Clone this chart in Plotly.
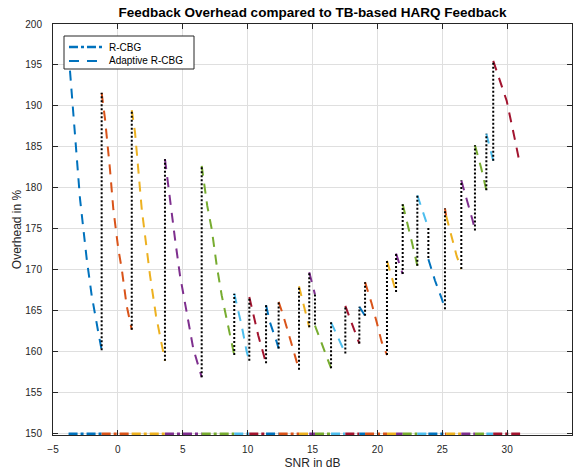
import plotly.graph_objects as go

# ---------------- data ----------------
# Adaptive R-CBG: flat list of points, segment id tells which curve they belong to
snr_db = [
    -3.80, -2.92, -2.40, -2.02, -1.51, -1.25,                 # 0
    -1.25, -0.99, -0.61, -0.35, 0.03, 0.30, 0.68, 1.07,       # 1
    1.07, 1.32, 1.57, 1.84, 2.22, 2.48, 2.94, 3.38, 3.63,     # 2
    3.63, 4.02, 4.40, 4.79, 5.30, 5.81, 6.46,                 # 3
    6.46, 6.89, 7.23, 7.62, 8.00, 8.39, 8.97,                 # 4
    8.97, 9.54, 9.93, 10.13,                                  # 5
    10.13, 10.44, 10.82, 11.42,                               # 6
    11.42, 11.72, 12.24, 12.39,                               # 7
    12.39, 12.75, 13.27, 13.96,                               # 8
    13.96, 14.42, 14.75,                                      # 9
    14.75, 15.19,                                             # 10
    15.19, 15.83, 16.43,                                      # 11
    16.43, 17.12, 17.53,                                      # 12
    17.53, 18.10, 18.61,                                      # 13
    18.61, 19.05,                                             # 14
    19.05, 19.56, 19.95, 20.33, 20.74,                        # 15
    20.74, 21.23, 21.44,                                      # 16
    21.44, 21.95,                                             # 17
    21.95, 22.38, 22.69, 23.08,                               # 18
    23.08, 23.67, 23.93,                                      # 19
    23.93,                                                    # 20
    23.93, 24.44, 24.96, 25.21,                               # 21
    25.21, 25.30,                                             # 22
    25.30, 25.73, 26.11, 26.47,                               # 23
    26.47, 26.96, 27.35, 27.52,                               # 24
    27.52, 27.99, 28.40,                                      # 25
    28.40, 28.81, 28.93,                                      # 26
    28.93, 29.45, 29.97, 30.56, 31.00,                        # 27
]
adaptive_overhead = [
    196.5, 178.7, 171.3, 166.9, 162.4, 160.2,
    191.6, 188.4, 182.3, 177.4, 172.6, 170.1, 165.6, 162.7,
    189.5, 186.8, 182.3, 177.4, 172.6, 169.3, 164.4, 160.8, 158.9,
    183.5, 178.3, 173.8, 169.3, 164.8, 160.4, 156.9,
    182.7, 177.8, 175.0, 170.5, 166.9, 164.0, 159.6,
    167.1, 163.2, 160.0, 158.9,
    166.7, 164.4, 162.0, 158.6,
    165.7, 163.6, 161.2, 160.4,
    166.1, 164.4, 161.6, 157.8,
    168.0, 165.2, 163.0,
    169.7, 167.0,
    163.2, 160.4, 158.0,
    163.6, 161.2, 159.8,
    165.6, 163.2, 161.0,
    165.5, 164.4,
    168.5, 165.9, 163.6, 161.2, 159.6,
    171.1, 168.5, 167.3,
    172.0, 169.5,
    178.0, 175.4, 173.2, 170.5,
    179.1, 176.4, 175.1,
    171.3,
    171.3, 168.7, 166.5, 165.2,
    177.5, 176.6,
    176.6, 174.0, 171.7, 170.1,
    180.9, 178.3, 176.0, 174.8,
    185.2, 182.5, 179.7,
    186.6, 184.1, 183.3,
    195.5, 192.9, 190.6, 186.2, 182.8,
]
segment_id = [
    0, 0, 0, 0, 0, 0,
    1, 1, 1, 1, 1, 1, 1, 1,
    2, 2, 2, 2, 2, 2, 2, 2, 2,
    3, 3, 3, 3, 3, 3, 3,
    4, 4, 4, 4, 4, 4, 4,
    5, 5, 5, 5,
    6, 6, 6, 6,
    7, 7, 7, 7,
    8, 8, 8, 8,
    9, 9, 9,
    10, 10,
    11, 11, 11,
    12, 12, 12,
    13, 13, 13,
    14, 14,
    15, 15, 15, 15, 15,
    16, 16, 16,
    17, 17,
    18, 18, 18, 18,
    19, 19, 19,
    20,
    21, 21, 21, 21,
    22, 22,
    23, 23, 23, 23,
    24, 24, 24, 24,
    25, 25, 25,
    26, 26, 26,
    27, 27, 27, 27, 27,
]
# R-CBG overhead per segment (sits on the lower axis limit)
rcbg_overhead = [150.0, 150.0, 150.0, 150.0, 150.0, 150.0, 150.0,
                 150.0, 150.0, 150.0, 150.0, 150.0, 150.0, 150.0,
                 150.0, 150.0, 150.0, 150.0, 150.0, 150.0, 150.0,
                 150.0, 150.0, 150.0, 150.0, 150.0, 150.0, 150.0]

series_names = ["R-CBG", "Adaptive R-CBG"]
x_ticks = [-5, 0, 5, 10, 15, 20, 25, 30, 35]
y_ticks = [150, 155, 160, 165, 170, 175, 180, 185, 190, 195, 200]

# ---------------- styling ----------------
palette = ["#0072BD", "#D95319", "#EDB120", "#7E2F8E",
           "#77AC30", "#4DBEEE", "#A2142F"]
FONT = "Liberation Sans, Arial, Helvetica, sans-serif"
AXC = "#262626"
DASH_RCBG = "9px,3px,3px,3px"
DASH_ADAPT = "10px,8px"

n_seg = len(rcbg_overhead)
seg_x = [[] for _ in range(n_seg)]
seg_y = [[] for _ in range(n_seg)]
for xv, yv, s in zip(snr_db, adaptive_overhead, segment_id):
    seg_x[s].append(xv)
    seg_y[s].append(yv)

fig = go.Figure()

# R-CBG (dash-dot, on the 150 % line)
for i in range(n_seg):
    fig.add_trace(go.Scatter(
        x=[seg_x[i][0], seg_x[i][-1]], y=[rcbg_overhead[i], rcbg_overhead[i]],
        mode="lines", line=dict(color=palette[i % 7], width=2.5, dash=DASH_RCBG),
        name=series_names[0], showlegend=False, hoverinfo="skip"))

# Adaptive R-CBG (dashed)
for i in range(n_seg):
    fig.add_trace(go.Scatter(
        x=seg_x[i], y=seg_y[i], mode="lines",
        line=dict(color=palette[i % 7], width=2, dash=DASH_ADAPT),
        name=series_names[1], showlegend=False, hoverinfo="skip"))

# black dotted switching lines
dx, dy = [], []
for i in range(n_seg - 1):
    b = seg_x[i + 1][0]
    dx += [b, b, None]
    dy += [seg_y[i][-1], seg_y[i + 1][0], None]
fig.add_trace(go.Scatter(x=dx, y=dy, mode="lines",
                         line=dict(color="black", width=2, dash="2px,2px"),
                         showlegend=False, hoverinfo="skip"))

axis_common = dict(
    showline=True, linecolor=AXC, linewidth=1, mirror="ticks",
    ticks="inside", ticklen=5, tickcolor=AXC, tickwidth=1,
    showgrid=True, gridcolor="#dfdfdf", gridwidth=1, zeroline=False,
    tickfont=dict(family=FONT, size=10, color=AXC), automargin=False,
)

# ---- MATLAB-style compact legend box (upper left, inside axes) ----
L, R = 0.0212, 0.2717
T, B = 0.9708, 0.8905
rows = [0.9440, 0.9100]
shapes = [dict(type="rect", xref="x domain", yref="y domain",
               x0=L, x1=R, y0=B, y1=T, layer="above",
               line=dict(color=AXC, width=1), fillcolor="white")]
annotations = []
for name, yy, dsh, w in zip(series_names, rows, [DASH_RCBG, DASH_ADAPT], [2.5, 2]):
    shapes.append(dict(type="line", xref="x domain", yref="y domain",
                       x0=0.0308, x1=0.1002, y0=yy, y1=yy, layer="above",
                       line=dict(color=palette[0], width=w, dash=dsh)))
    annotations.append(dict(text=name, xref="x domain", yref="y domain",
                            x=0.1040, y=yy, xanchor="left", yanchor="middle",
                            showarrow=False,
                            font=dict(family=FONT, size=10, color="black")))

fig.update_layout(
    width=577, height=470,
    margin=dict(l=53, r=5, t=24, b=35),
    paper_bgcolor="white", plot_bgcolor="white",
    font=dict(family=FONT, color=AXC),
    title=dict(text="<b>Feedback Overhead compared to TB-based HARQ Feedback</b>",
               x=0.5, xref="paper", xanchor="center",
               y=1 - 12 / 470, yref="container", yanchor="middle",
               font=dict(family=FONT, size=13.5, color="black")),
    xaxis=dict(range=[-5, 35], tickvals=x_ticks, ticklabelstandoff=5,
               title=dict(text="SNR in dB", standoff=5,
                          font=dict(family=FONT, size=12, color=AXC)),
               **axis_common),
    yaxis=dict(range=[149.85, 200], tickvals=y_ticks, ticklabelstandoff=8,
               title=dict(text="Overhead in %", standoff=1,
                          font=dict(family=FONT, size=12, color=AXC)),
               **axis_common),
    shapes=shapes,
    annotations=annotations,
    showlegend=False,
)

fig.write_html("out.html",
               config={"displayModeBar": False},
               post_script="document.body.style.margin='0px';"
                           "document.body.style.padding='0px';")
